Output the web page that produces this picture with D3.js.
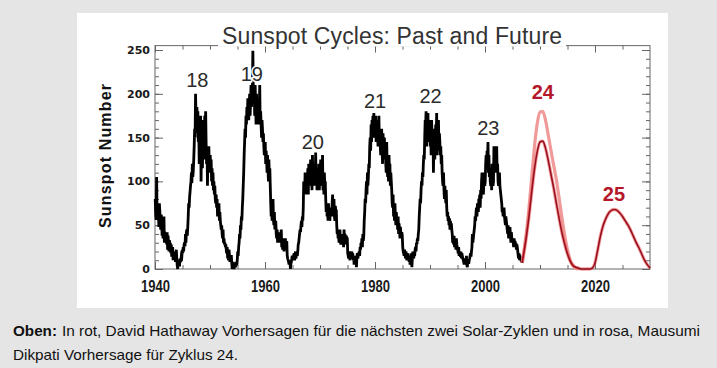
<!doctype html>
<html>
<head>
<meta charset="utf-8">
<style>
html,body{
    margin: 0;
    background: #e5e5e5;
    overflow: hidden;
}
.axis text { fill: #1a1a1a; }
.axis line { stroke: #666; }
</style>
</head>
<body>
<script src="https://cdn.jsdelivr.net/npm/d3@7"></script>
<script>
// monthly sunspot numbers, Jan 1940 on (one row per year)
var firstYear = 1940;
var sunspots = [
 80, 62, 56,105, 64, 58, 70, 62, 48, 75, 66, 55,
 45, 62, 58, 38, 55, 35, 48, 60, 30, 42, 40, 38,
 35, 28, 42, 22, 38, 30, 20, 33, 25, 30, 18, 28,
 14, 20, 25, 10, 18, 16, 12, 20,  8, 15, 22, 12,
  4,  0,  8,  5, 10,  3, 12,  8, 10, 15, 14, 22,
 18, 25, 20, 28, 30, 26, 40, 30, 42, 45, 38, 48,
 60, 75, 70, 82, 88, 95,100,110, 98,120,105,112,
125,140,160,150,200,170,155,185,165,180,145,160,
120,150,130,175,100,145,160,115,150,170,135,125,
175,150,180,145,120,140, 95,135,125,140,115,110,
130,110,125,100,115, 95,110, 90,100, 85, 95, 80,
 75, 85, 70, 80, 60, 72, 60, 75, 55, 65, 55, 50,
 45, 50, 40, 35, 45, 30, 35, 28, 30, 25, 28, 22,
 18, 25, 12, 15, 10, 22, 15,  8, 12, 10, 16,  6,
  0,  2,  8,  4,  0,  3,  6,  2,  5,  8,  4, 10,
 20, 15, 25, 30, 40, 35, 50, 45, 60, 55, 70, 80,
 95,110,130,145,160,150,175,165,185,170,195,180,
170,185,200,175,190,210,185,195,205,249,205,200,
205,175,210,190,165,200,180,185,195,175,165,180,
210,165,180,165,150,170,160,145,155,140,130,140,
145,120,135,125,110,130,115,100,125,105,115, 95,
 75, 60, 70, 55, 65, 80, 55, 50, 65, 45, 50, 55,
 40, 35, 45, 30, 38, 42, 30, 35, 40, 32, 38, 45,
 25, 30, 22, 35, 28, 20, 30, 25, 35, 22, 28, 32,
 15, 12, 10,  8,  5, 10,  8,  0,  6,  8, 12, 15,
 12, 10, 15, 18, 10, 14, 20, 12, 16, 18, 15, 20,
 28, 30, 35, 40, 45, 42, 50, 55, 48, 60, 55, 70,
100, 90, 85,110, 95, 85,105, 90,100,115, 85,120,
105,120, 95,125,100,110, 90,130,105,115, 95,110,
120, 95,133,100,115, 90,110,100, 95,120, 90,105,
110,125, 95,115,100,130, 90,105, 85,110, 95,100,
 80, 65, 75, 60, 70, 55, 75, 60, 70, 55, 68, 62,
 70, 60, 75, 85, 65, 70, 80, 60, 55, 72, 65, 68,
 50, 40, 45, 35, 42, 30, 38, 45, 32, 28, 35, 40,
 30, 40, 35, 25, 45, 30, 40, 35, 28, 38, 32, 36,
 18, 15, 12, 20, 14, 10, 18, 12, 16, 20, 12, 18,
 10, 12,  5, 15,  8, 12, 10,  2, 14, 18, 12, 15,
 18, 20, 15, 25, 22, 30, 28, 35, 25, 40, 32, 38,
 55, 65, 80, 75, 90,100, 85,110, 95,105,120,115,
140,150,135,165,145,170,160,175,155,178,150,170,
160,175,145,170,150,165,140,155,175,145,160,140,
130,150,160,135,120,155,140,130,150,125,140,120,
110,145,120,105,125,100,130,115,120, 95,110,100,
 90, 75, 70, 85, 60, 70, 55, 75, 60, 50, 65, 55,
 55, 45, 60, 40, 52, 45, 35, 48, 40, 35, 42, 38,
 25, 20, 18, 15, 22, 18, 12, 20, 15, 10, 18, 16,
 10, 15,  8, 12,  5, 10, 18,  8,  2, 12, 20, 15,
 12, 18, 15, 22, 25, 20, 30, 28, 35, 32, 40, 45,
 60, 70, 80, 75, 90,100, 95,110,105,120,130,125,
150,170,165,180,140,175,155,178,145,170,160,150,
140,165,130,170,150,135,160,110,145,155,125,150,
165,140,178,130,160,150,170,135,155,145,130,140,
120,130,110,100, 95,110, 90, 80, 95, 85, 75, 90,
 70, 60, 65, 55, 60, 50, 58, 45, 55, 48, 52, 45,
 40, 30, 35, 28, 38, 25, 30, 32, 22, 35, 28, 25,
 22, 18, 25, 15, 20, 18, 14, 20, 12, 18, 15, 12,
 10,  8,  5, 10,  6, 12,  8, 15,  4,  2, 10,  8,
  6, 10, 12, 15, 18, 14, 20, 25, 40, 30, 35, 40,
 45, 50, 60, 55, 65, 70, 60, 75, 70, 65, 80, 75,
 85, 70, 90, 80,100,110, 95, 90, 85,100,110, 95,
100,120,130,115,135,125,145,110,130,105,115,100,
 95,110, 90,120,105, 95,100,140,125,115,110,130,
125,140,110,120,100, 95,105,110, 95, 90, 85, 80,
 75, 65, 70, 60, 65, 70, 60, 55, 50, 60, 55, 50,
 45, 40, 50, 35, 45, 40, 48, 38, 30, 42, 35, 32,
 35, 30, 25, 35, 28, 32, 25, 30, 22, 28, 25, 20,
 15, 12, 18, 10, 15, 12, 10,  8, 12,  7
];

// Hathaway prediction (cycles 24 and 25)
var hathawayYears  = [2006.75, 2007, 2007.5, 2008, 2008.5, 2009, 2009.5, 2010, 2010.5, 2011, 2011.5,
                      2012, 2012.5, 2013, 2013.5, 2014, 2014.5, 2015, 2015.5, 2016, 2016.5, 2017,
                      2017.5, 2018, 2018.5, 2019, 2019.5, 2020, 2020.5, 2021, 2021.5, 2022, 2022.5,
                      2023, 2023.5, 2024, 2024.5, 2025, 2025.5, 2026, 2026.5, 2027, 2027.5, 2028,
                      2028.5, 2029, 2029.5, 2030];
var hathawayValues = [7, 16, 36, 60, 88, 114, 134, 145, 146, 138, 124,
                      108, 92, 74, 57, 41, 28, 17, 9, 4, 2, 1,
                      0, 0, 0, 0, 1, 7, 22, 38, 50, 58, 64,
                      67, 68, 67, 64, 60, 55, 50, 44, 37, 30, 24,
                      17, 10, 5, 1];

// Dikpati prediction (cycle 24)
var dikpatiYears  = [2006.75, 2007, 2007.5, 2008, 2008.5, 2009, 2009.5, 2010, 2010.5, 2011, 2011.5,
                     2012, 2012.5, 2013, 2013.5, 2014, 2014.5, 2015, 2015.5, 2016, 2016.5, 2017];
var dikpatiValues = [7, 17, 40, 70, 105, 140, 166, 179, 180, 170, 153,
                     135, 118, 101, 80, 58, 38, 22, 10, 4, 1, 0];

var cycleNames  = ["18", "19", "20", "21", "22", "23", "24", "25"];
var cycleYears  = [1947.7, 1957.6, 1968.7, 1980.0, 1990.1, 2000.6, 2010.5, 2023.45];
var cycleLabelY = [208, 215, 137, 184, 190, 153, 194, 78];

var xTicks = [1940, 1960, 1980, 2000, 2020];
var yTicks = [0, 50, 100, 150, 200, 250];

var W = 717, H = 368;

var svg = d3.select("body").append("svg")
    .attr("width", W)
    .attr("height", H)
    .style("display", "block");

// white panel
svg.append("rect")
    .attr("x", 77).attr("y", 13)
    .attr("width", 591).attr("height", 295)
    .attr("fill", "#fff");

var x = d3.scaleLinear().domain([1940, 2030]).range([155, 650]);
var y = d3.scaleLinear().domain([0, 250]).range([269, 50]);

// frame
svg.append("rect")
    .attr("x", x(1940)).attr("y", y(255))
    .attr("width", x(2030) - x(1940)).attr("height", y(0) - y(255))
    .attr("fill", "none").attr("stroke", "#666");

function dressAxis(g, cls) {
    g.attr("class", "axis " + cls);
    g.select(".domain").remove();
}

// minor ticks
svg.append("g").attr("transform", "translate(0," + y(0) + ")")
    .call(d3.axisBottom(x).tickValues(d3.range(1945, 2030, 5)).tickSize(-4).tickFormat(""))
    .call(dressAxis, "minor");
svg.append("g").attr("transform", "translate(0," + y(255) + ")")
    .call(d3.axisTop(x).tickValues(d3.range(1945, 2030, 5)).tickSize(-4).tickFormat(""))
    .call(dressAxis, "minor");
svg.append("g").attr("transform", "translate(" + x(1940) + ",0)")
    .call(d3.axisLeft(y).tickValues(d3.range(10, 251, 10)).tickSize(-4).tickFormat(""))
    .call(dressAxis, "minor");
svg.append("g").attr("transform", "translate(" + x(2030) + ",0)")
    .call(d3.axisRight(y).tickValues(d3.range(10, 251, 10)).tickSize(-4).tickFormat(""))
    .call(dressAxis, "minor");

// major ticks + labels
var bottom = svg.append("g").attr("transform", "translate(0," + y(0) + ")")
    .call(d3.axisBottom(x).tickValues(xTicks).tickSize(-7).tickPadding(12).tickFormat(d3.format("d")))
    .call(dressAxis, "major");
bottom.selectAll("text")
    .attr("textLength", 29)
    .attr("lengthAdjust", "spacingAndGlyphs")
    .style("font-family", "'Liberation Sans', Arial, sans-serif")
    .style("font-weight", "bold")
    .style("font-size", "16px");

svg.append("g").attr("transform", "translate(0," + y(255) + ")")
    .call(d3.axisTop(x).tickValues(xTicks).tickSize(-7).tickFormat(""))
    .call(dressAxis, "major");

var left = svg.append("g").attr("transform", "translate(" + x(1940) + ",0)")
    .call(d3.axisLeft(y).tickValues(yTicks).tickSize(-8).tickPadding(5))
    .call(dressAxis, "major");
left.selectAll("text")
    .style("font-family", "'DejaVu Sans', sans-serif")
    .style("font-weight", "bold")
    .style("font-size", "11px");

svg.append("g").attr("transform", "translate(" + x(2030) + ",0)")
    .call(d3.axisRight(y).tickValues(yTicks).tickSize(-8).tickFormat(""))
    .call(dressAxis, "major");

// observed data
var monthly = sunspots.map(function(v, i) {
    return {t: firstYear + (i + 0.5) / 12, v: v};
});
var line = d3.line()
    .x(function(d) { return x(d.t); })
    .y(function(d) { return y(d.v); });
svg.append("path")
    .datum(monthly)
    .attr("d", line)
    .attr("fill", "none")
    .attr("stroke", "#000")
    .attr("stroke-width", 2.8);

// predictions
var smooth = d3.line()
    .curve(d3.curveMonotoneX)
    .x(function(d) { return x(d[0]); })
    .y(function(d) { return y(d[1]); });

var dikpati = d3.zip(dikpatiYears, dikpatiValues);
var hathaway = d3.zip(hathawayYears, hathawayValues);

svg.append("path").datum(dikpati).attr("d", smooth)
    .attr("fill", "none").attr("stroke", "#f09a9a").attr("stroke-width", 3.2);
svg.append("path").datum(hathaway).attr("d", smooth)
    .attr("fill", "none").attr("stroke", "#e85858").attr("stroke-width", 3.4).attr("stroke-opacity", 0.55);
svg.append("path").datum(hathaway).attr("d", smooth)
    .attr("fill", "none").attr("stroke", "#9a0f1e").attr("stroke-width", 1.6);

// cycle numbers
svg.selectAll("text.cycle")
    .data(cycleNames)
    .enter().append("text")
    .attr("class", "cycle")
    .attr("x", function(d, i) { return x(cycleYears[i]); })
    .attr("y", function(d, i) { return y(cycleLabelY[i]); })
    .attr("text-anchor", "middle")
    .style("font-family", "'Liberation Sans', Arial, sans-serif")
    .style("font-size", "20px")
    .style("font-weight", function(d, i) { return i >= 6 ? "bold" : "normal"; })
    .style("fill", function(d, i) { return i >= 6 ? "#b5172a" : "#2b2b2b"; })
    .style("stroke", "#fff")
    .style("stroke-width", 3)
    .style("paint-order", "stroke")
    .text(function(d) { return d; });

// title
svg.append("rect")
    .attr("x", 218).attr("y", 22)
    .attr("width", 348).attr("height", 24.5)
    .attr("fill", "#fff");
svg.append("text")
    .attr("x", 392).attr("y", 43.5)
    .attr("text-anchor", "middle")
    .attr("textLength", 340)
    .style("font-family", "'Liberation Sans', Arial, sans-serif")
    .style("font-size", "23px")
    .style("fill", "#333")
    .text("Sunspot Cycles: Past and Future");

// y axis title
svg.append("text")
    .attr("transform", "translate(111,156) rotate(-90)")
    .attr("text-anchor", "middle")
    .attr("textLength", 144)
    .style("font-family", "'Liberation Sans', Arial, sans-serif")
    .style("font-size", "16px")
    .style("font-weight", "bold")
    .style("fill", "#111")
    .text("Sunspot Number");

// caption
var capFont = "'Liberation Sans', Arial, sans-serif";
function caption(txt, px, py, len, weight) {
    svg.append("text")
        .attr("x", px).attr("y", py)
        .attr("textLength", len)
        .attr("lengthAdjust", "spacingAndGlyphs")
        .style("font-family", capFont).style("font-size", "15px")
        .style("font-weight", weight)
        .style("fill", "#111")
        .text(txt);
}
caption("Oben:", 13, 336, 44, "bold");
caption("In rot, David Hathaway Vorhersagen für die nächsten zwei Solar-Zyklen und in rosa, Mausumi", 62, 336, 638, "normal");
caption("Dikpati Vorhersage für Zyklus 24.", 13, 359.5, 225, "normal");
</script>
</body>
</html>
